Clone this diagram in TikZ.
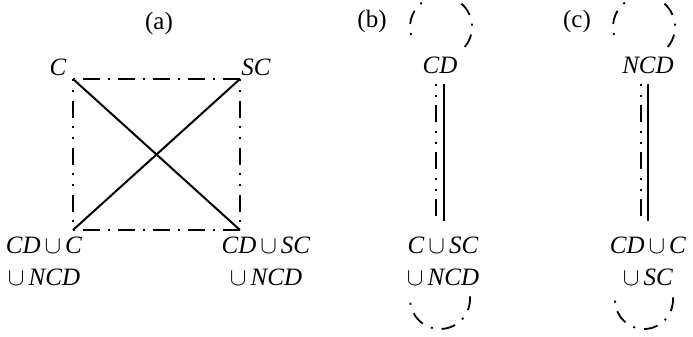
\documentclass[tikz,border=0pt]{standalone}
\usepackage{fontspec}
\setmainfont{Liberation Serif}
\begin{document}
\begin{tikzpicture}[x=1pt,y=-1pt,
  lbl/.style={inner sep=0pt,outer sep=0pt,anchor=base,font=\fontsize{25}{32}\selectfont,align=center},
  solidln/.style={line width=2pt},
  dashdotln/.style={line width=2pt,dash pattern=on 2pt off 8pt on 17pt off 8pt},
  ddotln/.style={line width=2pt,dash pattern=on 2pt off 9pt on 2pt off 8.5pt on 17pt off 8.5pt},
  loopln/.style={line width=1.8pt,dash pattern=on 14pt off 9pt on 2pt off 9pt}]
\useasboundingbox (0,0) rectangle (693,337);
\newcommand{\cupsym}{\hspace{0.16em}$\cup$\hspace{0.16em}}
% (a)
\node[lbl] (la) at (159,30) {(a)};
\node[lbl] (nc) at (58,75) {\textit{C}};
\node[lbl] (nsc) at (256,75) {\textit{SC}};
\node[lbl] (nbl) at (44,285) {\textit{CD}\cupsym\textit{C}\\$\cup$\,\textit{NCD}};
\node[lbl] (nbr) at (266,285) {\textit{CD}\cupsym\textit{SC}\\$\cup$\,\textit{NCD}};
\coordinate (tl) at (73,79);
\coordinate (tr) at (240,79);
\coordinate (bl) at (73,230);
\coordinate (br) at (240,230);
\draw[dashdotln] (tl) -- (tr);
\draw[dashdotln] (bl) -- (br);
\draw[ddotln] (tl) -- (bl);
\draw[ddotln] (tr) -- (br);
\draw[solidln] (tl) -- (br);
\draw[solidln] (bl) -- (tr);
% (b)
\node[lbl] (lb) at (372,28) {(b)};
\node[lbl] (ncd) at (440,74) {\textit{CD}};
\node[lbl] (nbb) at (443,285) {\textit{C}\cupsym\textit{SC}\\$\cup$\,\textit{NCD}};
\coordinate (b1t) at (436,83.5);
\coordinate (b1b) at (436,216);
\coordinate (b2t) at (444,84);
\coordinate (b2b) at (444,221);
\draw[ddotln] (b1t) -- (b1b);
\draw[solidln] (b2t) -- (b2b);
\coordinate (bltop) at (441,27);
\coordinate (blbot) at (440,299);
\draw[loopln] (bltop) ++(40:31) arc[start angle=40,end angle=-210,radius=31];
\draw[loopln] (blbot) ++(-5:30) arc[start angle=-5,end angle=185,radius=30];
% (c)
\node[lbl] (lc) at (577,28) {(c)};
\node[lbl] (nncd) at (648,74) {\textit{NCD}};
\node[lbl] (ncb) at (648,285) {\textit{CD}\cupsym\textit{C}\\$\cup$\,\textit{SC}};
\coordinate (c1t) at (640.5,83.5);
\coordinate (c1b) at (640.5,216);
\coordinate (c2t) at (648,84);
\coordinate (c2b) at (648,221);
\draw[ddotln] (c1t) -- (c1b);
\draw[solidln] (c2t) -- (c2b);
\coordinate (cltop) at (644,27);
\coordinate (clbot) at (644,300);
\draw[loopln] (cltop) ++(40:31) arc[start angle=40,end angle=-210,radius=31];
\draw[loopln] (clbot) ++(-5:29) arc[start angle=-5,end angle=185,radius=29];
\end{tikzpicture}
\end{document}
